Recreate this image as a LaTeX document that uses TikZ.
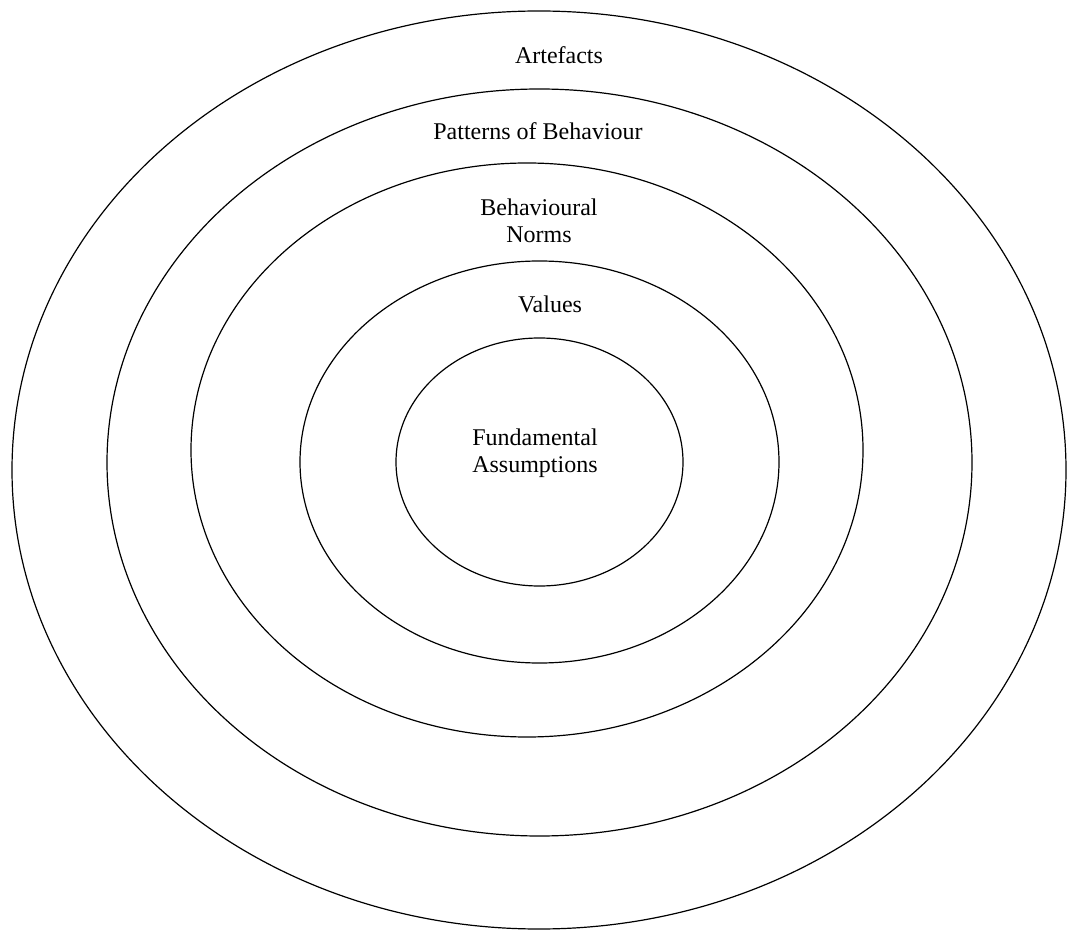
\documentclass[tikz,border=0pt]{standalone}
\usepackage{fontspec}
\setmainfont{Liberation Serif}
\begin{document}
\begin{tikzpicture}[x=0.75pt,y=-0.75pt,
    ring/.style={line width=0.9pt},
    lbl/.style={font=\fontsize{18}{20.6}\selectfont,align=center,anchor=base,inner sep=0pt}]
      \useasboundingbox (0,0) rectangle (1068,930);
      \begin{scope}[ring]
        \draw (539,470) ellipse [x radius=527, y radius=459];
        \draw (539.5,462.5) ellipse [x radius=432.5, y radius=373.5];
        \draw (527,450) ellipse [x radius=336, y radius=287];
        \draw (539.5,462) ellipse [x radius=239.5, y radius=201];
        \draw (539.5,462) ellipse [x radius=143.5, y radius=124];
      \end{scope}
      \draw
        (559,64) node[lbl] (artefacts){Artefacts}
        (538,140) node[lbl] (patterns){Patterns of Behaviour}
        (539,243) node[lbl] (norms){Behavioural\\Norms}
        (550,313) node[lbl] (values){Values}
        (535,473) node[lbl] (assumptions){Fundamental\\Assumptions};
    \end{tikzpicture}
\end{document}
